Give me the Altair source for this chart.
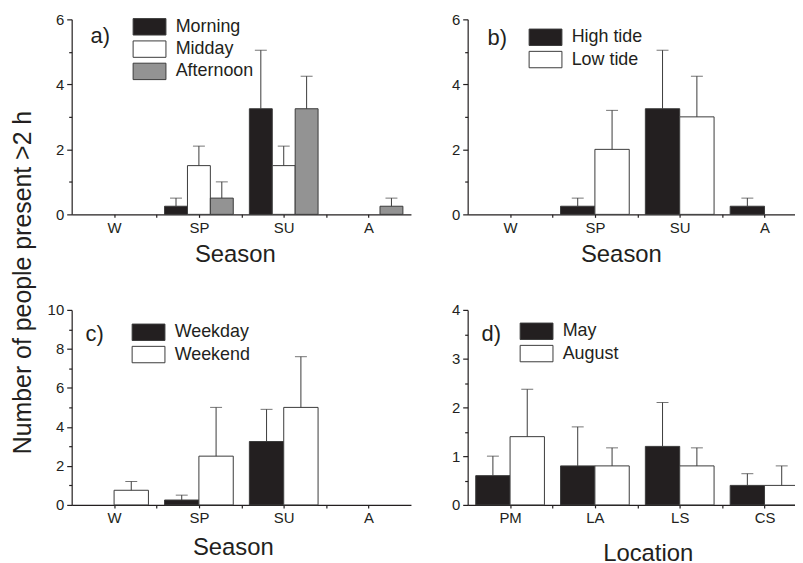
import altair as alt
import pandas as pd

# ---------------- data ----------------
seasons = ["W", "SP", "SU", "A"]
locations = ["PM", "LA", "LS", "CS"]

# a) time of day
a_series = ["Morning", "Midday", "Afternoon"]
a_morning = [0, 0.25, 3.25, 0]
a_morning_hi = [0, 0.5, 5.05, 0]
a_midday = [0, 1.5, 1.5, 0]
a_midday_hi = [0, 2.1, 2.1, 0]
a_afternoon = [0, 0.5, 3.25, 0.25]
a_afternoon_hi = [0, 1.0, 4.25, 0.5]
a_yticks = [0, 1, 2, 3, 4, 5, 6]

# b) tide
b_series = ["High tide", "Low tide"]
b_high = [0, 0.25, 3.25, 0.25]
b_high_hi = [0, 0.5, 5.05, 0.5]
b_low = [0, 2.0, 3.0, 0]
b_low_hi = [0, 3.2, 4.25, 0]
b_yticks = [0, 1, 2, 3, 4, 5, 6]

# c) day of week
c_series = ["Weekday", "Weekend"]
c_weekday = [0, 0.25, 3.25, 0]
c_weekday_hi = [0, 0.5, 4.9, 0]
c_weekend = [0.75, 2.5, 5.0, 0]
c_weekend_hi = [1.2, 5.0, 7.6, 0]
c_yticks = [0, 1, 2, 3, 4, 5, 6, 7, 8, 9, 10]

# d) location
d_series = ["May", "August"]
d_may = [0.6, 0.8, 1.2, 0.4]
d_may_hi = [1.0, 1.6, 2.1, 0.64]
d_august = [1.4, 0.8, 0.8, 0.4]
d_august_hi = [2.37, 1.17, 1.17, 0.8]
d_yticks = [0, 0.5, 1, 1.5, 2, 2.5, 3, 3.5, 4]

y_title = "Number of people present >2 h"

# ---------------- style ----------------
BLACK = "#231f20"
GRAY = "#939393"
WHITE = "#ffffff"
EDGE = "#3a3a3a"
FONT = "Liberation Sans"
PW = 341
PH = 196
GROUP = 0.81  # share of each category slot filled by its bars


def panel(cats, series, values, his, colors, yticks, major, letter, letter_xy,
          xtitle, title_xy, legend_xy, ytitle=None, ytitle_y=98):
    n = len(series)
    bw = GROUP / n
    rows = []
    for j, (s, vals, hs) in enumerate(zip(series, values, his)):
        for i, (c, v, h) in enumerate(zip(cats, vals, hs)):
            pos = i + (j - (n - 1) / 2) * bw
            rows.append({"cat": c, "series": s, "value": v, "hi": h,
                         "pos": pos, "x0": pos - bw / 2, "x1": pos + bw / 2})
    df = pd.DataFrame(rows)

    cats_js = "[" + ",".join(f"'{c}'" for c in cats) + "]"
    xticks = [k / 2 for k in range(0, 2 * len(cats) - 1)]
    xscale = alt.Scale(domain=[-0.5, len(cats) - 0.5], nice=False, zero=False)
    xaxis = alt.Axis(
        title=xtitle, values=xticks,
        labelExpr=f"datum.value % 1 == 0 ? {cats_js}[datum.value] : ''",
        labelAngle=0, labelFontSize=15, labelPadding=3, labelFlush=False,
        labelOverlap=False, tickSize=3, titleFontSize=24, titleFontWeight="normal",
        titleX=title_xy[0], titleY=title_xy[1], titleAlign="center",
        titleBaseline="alphabetic", grid=False,
    )
    majors = [v for v in yticks if v % major == 0]
    minors = [v for v in yticks if v % major != 0]
    yaxis_kw = dict(
        values=majors, labelFontSize=15, labelPadding=3, labelOverlap=False,
        labelFlush=False, tickSize=5, grid=False, minExtent=30, maxExtent=30,
    )
    if ytitle is not None:
        yaxis_kw.update(
            title=ytitle, titleFontSize=25, titleFontWeight="normal",
            titleAngle=270, titleAlign="center", titleBaseline="alphabetic",
            titleX=-41, titleY=ytitle_y,
        )
    else:
        yaxis_kw.update(title=None)
    minor_axis = alt.Axis(
        values=minors, orient="left", labels=False, domain=False, tickSize=3,
        title=None, grid=False, minExtent=0, maxExtent=0,
    )
    yscale = alt.Scale(domain=[yticks[0], yticks[-1]], nice=False)

    base = alt.Chart(df)
    bars = base.transform_filter(alt.datum.value > 0).mark_bar(
        stroke=EDGE, strokeWidth=1
    ).encode(
        x=alt.X("x0:Q", scale=xscale, axis=xaxis),
        x2="x1:Q",
        y=alt.Y("value:Q", scale=yscale, axis=alt.Axis(**yaxis_kw)),
        y2=alt.datum(0),
        color=alt.Color(
            "series:N", sort=series,
            scale=alt.Scale(domain=series, range=colors),
            legend=alt.Legend(
                title=None, orient="none",
                legendX=legend_xy[0], legendY=legend_xy[1],
                symbolType="M-2,-1H2V1H-2Z", symbolSize=272,
                symbolStrokeColor=EDGE, symbolStrokeWidth=1, symbolOpacity=1,
                labelFontSize=18, labelOffset=17.25, rowPadding=0.4,
                padding=0, labelFont=FONT, labelColor=BLACK,
            ),
        ),
    )
    err = base.transform_filter(alt.datum.hi > alt.datum.value)
    rules = err.mark_rule(color=EDGE, strokeWidth=1).encode(
        x="pos:Q", y=alt.Y("value:Q", axis=None), y2="hi:Q"
    )
    caps = err.mark_tick(orient="horizontal", size=12, thickness=1, color=EDGE).encode(
        x="pos:Q", y=alt.Y("hi:Q", scale=yscale, axis=minor_axis)
    )
    lab = alt.Chart(pd.DataFrame({"t": [letter]})).mark_text(
        align="left", baseline="alphabetic", fontSize=22, font=FONT, color=BLACK
    ).encode(text="t:N", x=alt.value(letter_xy[0]), y=alt.value(letter_xy[1]))
    return alt.layer(bars, rules, caps, lab).resolve_axis(y="independent").properties(
        width=PW, height=PH)


pa = panel(seasons, a_series, [a_morning, a_midday, a_afternoon],
           [a_morning_hi, a_midday_hi, a_afternoon_hi], [BLACK, WHITE, GRAY],
           a_yticks, 2, "a)", (19, 24), "Season", (164, 47), (69.25, -1.5),
           ytitle=y_title, ytitle_y=264)
pb = panel(seasons, b_series, [b_high, b_low], [b_high_hi, b_low_hi],
           [BLACK, WHITE], b_yticks, 2, "b)", (20, 26), "Season", (154, 47),
           (69.25, 9))
pc = panel(seasons, c_series, [c_weekday, c_weekend], [c_weekday_hi, c_weekend_hi],
           [BLACK, WHITE], c_yticks, 2, "c)", (14, 31), "Season", (162, 50),
           (68.25, 13.5), ytitle=" ", ytitle_y=98)
pd_ = panel(locations, d_series, [d_may, d_august], [d_may_hi, d_august_hi],
            [BLACK, WHITE], d_yticks, 1, "d)", (14, 31), "Location", (181, 56),
            (60.25, 12.5))

top = alt.hconcat(pa, pb, spacing=27).resolve_scale(
    x="independent", y="independent", color="independent")
bottom = alt.hconcat(pc, pd_, spacing=27).resolve_scale(
    x="independent", y="independent", color="independent")

chart = alt.vconcat(top, bottom, spacing=292, bounds="flush").resolve_scale(
    x="independent", y="independent", color="independent"
).properties(
    padding={"left": 2, "top": 3, "right": -12, "bottom": 0}
).configure_view(stroke=None).configure_axis(
    labelFont=FONT, titleFont=FONT, labelColor=BLACK, titleColor=BLACK,
    domainColor=BLACK, tickColor=BLACK, domainWidth=1.2, tickWidth=1.2,
).configure_legend(labelFont=FONT, labelColor=BLACK)

chart.save("out.html", embed_options={"renderer": "svg", "actions": False})
